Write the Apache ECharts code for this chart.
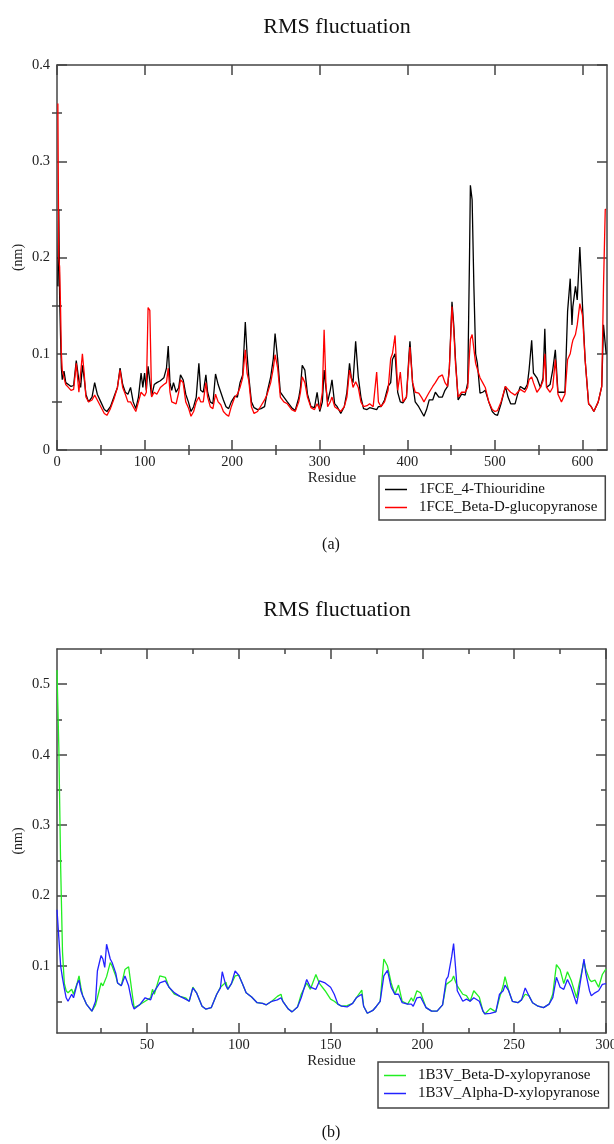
<!DOCTYPE html>
<html>
<head>
<meta charset="utf-8">
<script src="https://cdn.jsdelivr.net/npm/echarts@6/dist/echarts.min.js"></script>
<style>
html, body { margin: 0; padding: 0; background: #fff; }
#main { width: 614px; height: 1144px; }
</style>
</head>
<body>
<div id="main"></div>
<script>
// (a) 1FCE, RMSF per residue (nm)
var resA = [
    1, 2, 3, 4, 5, 6, 8, 10, 13, 16,
    19, 22, 25, 27, 29, 31, 33, 36, 40, 43,
    46, 50, 54, 57, 61, 65, 69, 72, 75, 78,
    81, 84, 87, 90, 93, 96, 98, 100, 102, 104,
    106, 108, 111, 114, 118, 122, 125, 127, 129, 131,
    133, 136, 139, 141, 144, 147, 150, 153, 156, 159,
    162, 164, 167, 170, 172, 175, 178, 181, 184, 187,
    190, 193, 196, 199, 203, 206, 209, 212, 215, 217,
    219, 222, 225, 229, 233, 237, 240, 244, 247, 249,
    252, 255, 259, 263, 268, 272, 276, 278, 280, 283,
    286, 290, 294, 297, 300, 303, 305, 307, 309, 312,
    314, 317, 320, 324, 328, 331, 334, 336, 338, 341,
    344, 347, 350, 354, 357, 361, 365, 367, 370, 374,
    378, 381, 383, 386, 389, 392, 395, 399, 402, 403,
    406, 409, 413, 416, 419, 422, 425, 429, 432, 436,
    440, 443, 446, 448, 451, 453, 455, 458, 462, 466,
    469, 471, 472, 474, 476, 478, 480, 483, 486, 489,
    493, 497, 500, 503, 507, 512, 515, 518, 523, 526,
    529, 534, 537, 539, 542, 544, 548, 552, 555, 557,
    559, 563, 566, 569, 572, 576, 580, 583, 586, 588,
    589, 592, 594, 597, 600, 603, 607, 610, 613, 618,
    622, 624, 626, 627
];
var thiouridine = [
    0.17, 0.25, 0.16, 0.12, 0.085, 0.073, 0.082, 0.07, 0.068, 0.066,
    0.067, 0.093, 0.072, 0.065, 0.088, 0.075, 0.058, 0.05, 0.055, 0.07,
    0.058, 0.05, 0.042, 0.04, 0.045, 0.055, 0.065, 0.085, 0.068, 0.06,
    0.058, 0.065, 0.05, 0.043, 0.055, 0.08, 0.065, 0.08, 0.062, 0.087,
    0.085, 0.056, 0.068, 0.07, 0.072, 0.075, 0.085, 0.108, 0.07, 0.062,
    0.07, 0.06, 0.065, 0.078, 0.073, 0.058, 0.05, 0.04, 0.045, 0.055,
    0.09, 0.062, 0.06, 0.078, 0.06, 0.05, 0.048, 0.079, 0.068, 0.06,
    0.052, 0.045, 0.043, 0.05, 0.056, 0.055, 0.07, 0.078, 0.133, 0.1,
    0.076, 0.05, 0.044, 0.042, 0.043, 0.045, 0.06, 0.076, 0.095, 0.121,
    0.094, 0.06, 0.055, 0.05, 0.044, 0.041, 0.054, 0.065, 0.088, 0.083,
    0.058, 0.045, 0.044, 0.06, 0.04, 0.05, 0.083, 0.065, 0.05, 0.062,
    0.073, 0.048, 0.045, 0.038, 0.045, 0.06, 0.09, 0.075, 0.07, 0.113,
    0.076, 0.055, 0.043, 0.042, 0.044, 0.043, 0.042, 0.045, 0.045, 0.052,
    0.066, 0.07, 0.094, 0.1, 0.06, 0.05, 0.049, 0.055, 0.1, 0.113,
    0.07, 0.05, 0.045, 0.04, 0.035, 0.042, 0.052, 0.052, 0.06, 0.055,
    0.055, 0.062, 0.066, 0.085, 0.154, 0.13, 0.094, 0.052, 0.058, 0.057,
    0.07, 0.2, 0.275, 0.26, 0.17, 0.1, 0.09, 0.059, 0.06, 0.062,
    0.05, 0.04, 0.037, 0.036, 0.048, 0.066, 0.055, 0.048, 0.048, 0.058,
    0.066, 0.063, 0.068, 0.083, 0.114, 0.08, 0.075, 0.065, 0.075, 0.126,
    0.065, 0.068, 0.083, 0.104, 0.06, 0.06, 0.06, 0.144, 0.178, 0.13,
    0.149, 0.17, 0.156, 0.211, 0.15, 0.094, 0.048, 0.045, 0.04, 0.05,
    0.066, 0.13, 0.13, 0.1
];
var glucopyranose = [
    0.36, 0.2, 0.19, 0.15, 0.1, 0.083, 0.075, 0.068, 0.065, 0.062,
    0.063, 0.09, 0.06, 0.062, 0.1, 0.08, 0.055, 0.05, 0.052, 0.057,
    0.052, 0.045, 0.038, 0.036, 0.043, 0.053, 0.065, 0.083, 0.065, 0.058,
    0.05, 0.05, 0.045, 0.04, 0.05, 0.06, 0.058, 0.056, 0.06, 0.148,
    0.145, 0.055, 0.06, 0.058, 0.065, 0.068, 0.07, 0.085, 0.06, 0.05,
    0.052, 0.048, 0.06, 0.073, 0.07, 0.05, 0.044, 0.035, 0.04, 0.05,
    0.055, 0.05, 0.05, 0.07, 0.055, 0.045, 0.043, 0.058, 0.05, 0.047,
    0.04, 0.037, 0.035, 0.045, 0.055, 0.058, 0.065, 0.075, 0.104, 0.08,
    0.072, 0.045, 0.038, 0.04, 0.046, 0.052, 0.058, 0.07, 0.085, 0.099,
    0.085, 0.055, 0.05, 0.048, 0.042, 0.04, 0.05, 0.06, 0.076, 0.07,
    0.055, 0.044, 0.042, 0.048, 0.042, 0.06, 0.125, 0.07, 0.045, 0.05,
    0.055, 0.045, 0.043, 0.04, 0.045, 0.055, 0.083, 0.075, 0.065, 0.071,
    0.065, 0.05, 0.045, 0.046, 0.048, 0.045, 0.081, 0.05, 0.045, 0.05,
    0.062, 0.095, 0.1, 0.119, 0.062, 0.081, 0.05, 0.055, 0.095, 0.107,
    0.07, 0.06, 0.059, 0.055, 0.05, 0.055, 0.06, 0.066, 0.07, 0.076,
    0.078, 0.07, 0.066, 0.085, 0.149, 0.125, 0.09, 0.055, 0.06, 0.06,
    0.065, 0.1, 0.115, 0.12, 0.105, 0.09, 0.088, 0.075, 0.07, 0.065,
    0.05, 0.042, 0.04, 0.041, 0.05, 0.066, 0.063, 0.06, 0.057, 0.06,
    0.063, 0.06, 0.065, 0.073, 0.076, 0.07, 0.06, 0.065, 0.072, 0.1,
    0.065, 0.06, 0.065, 0.094, 0.058, 0.05, 0.058, 0.094, 0.1, 0.11,
    0.114, 0.12, 0.13, 0.152, 0.14, 0.094, 0.048, 0.045, 0.04, 0.05,
    0.066, 0.17, 0.25, 0.25
];

// (b) 1B3V, RMSF per residue (nm)
var resB = [
    1, 2, 3, 4, 5, 6, 7, 9, 10, 12,
    13, 14, 15, 17, 20, 22, 23, 25, 26, 27,
    28, 30, 31, 33, 34, 36, 38, 40, 42, 43,
    46, 49, 52, 53, 54, 57, 60, 62, 65, 68,
    71, 73, 75, 77, 80, 82, 85, 88, 90, 91,
    93, 94, 96, 98, 100, 102, 104, 107, 110, 113,
    115, 118, 121, 123, 124, 127, 129, 132, 134, 137,
    139, 142, 144, 147, 150, 152, 154, 156, 159, 162,
    164, 167, 168, 170, 173, 175, 177, 179, 181, 183,
    185, 187, 189, 192, 194, 195, 197, 199, 202, 205,
    208, 211, 213, 214, 216, 217, 218, 219, 222, 224,
    226, 228, 231, 233, 234, 237, 240, 242, 244, 245,
    247, 249, 252, 254, 256, 258, 260, 263, 266, 269,
    271, 273, 275, 277, 279, 281, 284, 285, 288, 289,
    291, 292, 294, 296, 298, 300
];
var betaXylo = [
    0.52, 0.41, 0.24, 0.12, 0.075, 0.065, 0.062, 0.067, 0.06, 0.076,
    0.086, 0.07, 0.058, 0.046, 0.036, 0.045, 0.055, 0.076, 0.072, 0.07,
    0.085, 0.105, 0.1, 0.086, 0.076, 0.072, 0.095, 0.099, 0.06, 0.041,
    0.045, 0.05, 0.055, 0.067, 0.06, 0.086, 0.084, 0.07, 0.06, 0.057,
    0.055, 0.05, 0.07, 0.062, 0.043, 0.039, 0.041, 0.06, 0.07, 0.07,
    0.077, 0.067, 0.075, 0.086, 0.087, 0.075, 0.062, 0.056, 0.048, 0.047,
    0.045, 0.05, 0.057, 0.06, 0.05, 0.039, 0.035, 0.042, 0.06, 0.076,
    0.067, 0.088, 0.075, 0.065, 0.053, 0.05, 0.046, 0.043, 0.044, 0.047,
    0.055, 0.066, 0.043, 0.033, 0.037, 0.043, 0.05, 0.11, 0.1, 0.076,
    0.06, 0.073, 0.05, 0.046, 0.055, 0.05, 0.065, 0.062, 0.041, 0.036,
    0.036, 0.045, 0.074, 0.075, 0.08, 0.086, 0.078, 0.072, 0.06, 0.058,
    0.05, 0.065, 0.056, 0.036, 0.032, 0.04, 0.035, 0.055, 0.072, 0.085,
    0.065, 0.05, 0.048, 0.052, 0.06, 0.058, 0.048, 0.043, 0.041, 0.046,
    0.06, 0.102, 0.095, 0.075, 0.092, 0.08, 0.055, 0.07, 0.107, 0.095,
    0.081, 0.078, 0.08, 0.07, 0.088, 0.096
];
var alphaXylo = [
    0.18, 0.14, 0.1, 0.083, 0.068, 0.055, 0.05, 0.06, 0.055, 0.075,
    0.08, 0.065, 0.058, 0.046, 0.036, 0.05, 0.093, 0.115, 0.11, 0.098,
    0.131, 0.11, 0.105, 0.09, 0.076, 0.072, 0.086, 0.072, 0.046, 0.039,
    0.045, 0.055, 0.052, 0.06, 0.06, 0.076, 0.079, 0.07, 0.062, 0.057,
    0.053, 0.05, 0.069, 0.062, 0.043, 0.039, 0.041, 0.06, 0.069, 0.092,
    0.072, 0.067, 0.075, 0.093, 0.087, 0.075, 0.062, 0.056, 0.048, 0.047,
    0.045, 0.05, 0.052, 0.055, 0.05, 0.039, 0.035, 0.042, 0.055, 0.081,
    0.07, 0.067, 0.079, 0.076, 0.07, 0.06, 0.046, 0.043, 0.042, 0.047,
    0.055, 0.06, 0.043, 0.033, 0.037, 0.043, 0.05, 0.086, 0.094, 0.07,
    0.06, 0.06, 0.048, 0.046, 0.046, 0.043, 0.055, 0.056, 0.041, 0.036,
    0.036, 0.045, 0.081, 0.085, 0.114, 0.132, 0.1, 0.065, 0.05, 0.053,
    0.05, 0.055, 0.05, 0.036, 0.032, 0.033, 0.035, 0.06, 0.065, 0.073,
    0.065, 0.05, 0.048, 0.052, 0.069, 0.058, 0.048, 0.043, 0.041, 0.046,
    0.055, 0.084, 0.07, 0.067, 0.081, 0.07, 0.046, 0.06, 0.11, 0.09,
    0.065, 0.058, 0.062, 0.065, 0.074, 0.075
];

// tick positions
var xMajorA = [0, 100, 200, 300, 400, 500, 600];
var xMinorA = [50, 150, 250, 350, 450, 550];
var yMajorA = [0, 0.1, 0.2, 0.3, 0.4];
var yMinorA = [0.05, 0.15, 0.25, 0.35];
var xMajorB = [50, 100, 150, 200, 250, 300];
var xMinorB = [25, 75, 125, 175, 225, 275];
var yMajorB = [0.1, 0.2, 0.3, 0.4, 0.5];
var yMinorB = [0.05, 0.15, 0.25, 0.35, 0.45];

var FONT = 'Liberation Serif';
var FRAME = '#444';

function zip(xs, ys) {
    return xs.map(function (x, i) { return [x, ys[i]]; });
}

// one side of the frame: a major axis (line + long ticks) and a minor one (short ticks only)
function sideAxes(gridIndex, position, min, max, major, minor, withLabels, name) {
    var isY = position === 'left' || position === 'right';
    var tickStyle = { color: FRAME, width: 1.5 };
    var majorAxis = {
        type: 'value',
        gridIndex: gridIndex,
        position: position,
        min: min,
        max: max,
        splitLine: { show: false },
        axisLine: { show: true, onZero: false, lineStyle: { color: FRAME, width: 1.5 } },
        axisTick: { show: true, inside: true, length: 10, customValues: major, lineStyle: tickStyle },
        axisLabel: {
            show: withLabels,
            customValues: major,
            margin: isY ? 7 : 5,
            color: '#222',
            fontFamily: FONT,
            fontSize: 14.5
        }
    };
    if (name) {
        majorAxis.name = name;
        majorAxis.nameLocation = 'middle';
        majorAxis.nameMoveOverlap = false;
        majorAxis.nameGap = isY ? 32 : 21;
        majorAxis.nameRotate = isY ? 90 : 0;
        majorAxis.nameTextStyle = { fontFamily: FONT, fontSize: isY ? 14 : 15, color: '#222' };
    }
    var minorAxis = {
        type: 'value',
        gridIndex: gridIndex,
        position: position,
        min: min,
        max: max,
        splitLine: { show: false },
        axisLine: { show: false },
        axisTick: { show: true, inside: true, length: 5, customValues: minor, lineStyle: tickStyle },
        axisLabel: { show: false }
    };
    return [majorAxis, minorAxis];
}

var xAxes = [].concat(
    sideAxes(0, 'bottom', 0, 628, xMajorA, xMinorA, true, 'Residue'),
    sideAxes(0, 'top', 0, 628, xMajorA, xMinorA, false),
    sideAxes(1, 'bottom', 1, 300, xMajorB, xMinorB, true, 'Residue'),
    sideAxes(1, 'top', 1, 300, xMajorB, xMinorB, false)
);
var yAxes = [].concat(
    sideAxes(0, 'left', 0, 0.4, yMajorA, yMinorA, true, '(nm)'),
    sideAxes(0, 'right', 0, 0.4, yMajorA, yMinorA, false),
    sideAxes(1, 'left', 0.005, 0.55, yMajorB, yMinorB, true, '(nm)'),
    sideAxes(1, 'right', 0.005, 0.55, yMajorB, yMinorB, false)
);

function rmsfLine(name, color, gridIdx, data) {
    return {
        name: name,
        type: 'line',
        xAxisIndex: gridIdx * 4,
        yAxisIndex: gridIdx * 4,
        data: data,
        symbol: 'none',
        color: color,
        lineStyle: { color: color, width: 1.3 }
    };
}

function legendBox(names, left, top, padding) {
    return {
        data: names,
        orient: 'vertical',
        left: left,
        top: top,
        padding: padding,
        itemGap: 3,
        icon: 'rect',
        itemWidth: 22,
        itemHeight: 1.5,
        borderColor: FRAME,
        borderWidth: 1.5,
        borderRadius: 0,
        backgroundColor: '#fff',
        selectedMode: false,
        textStyle: { fontFamily: FONT, fontSize: 15, color: '#111', padding: [0, 0, 0, 7] }
    };
}

var chart = echarts.init(document.getElementById('main'));
chart.setOption({
    backgroundColor: '#fff',
    animation: false,
    title: [
        {
            text: 'RMS fluctuation', left: 332, top: 11, textAlign: 'center',
            textStyle: { fontFamily: FONT, fontSize: 22, fontWeight: 'normal', color: '#111' }
        },
        {
            text: 'RMS fluctuation', left: 332, top: 594, textAlign: 'center',
            textStyle: { fontFamily: FONT, fontSize: 22, fontWeight: 'normal', color: '#111' }
        }
    ],
    grid: [
        { left: 57, top: 65, width: 550, height: 385, outerBoundsMode: 'none' },
        { left: 57, top: 649, width: 549, height: 384, outerBoundsMode: 'none' }
    ],
    xAxis: xAxes,
    yAxis: yAxes,
    legend: [
        legendBox(['1FCE_4-Thiouridine', '1FCE_Beta-D-glucopyranose'], 379, 476, [6, 8, 5, 6]),
        legendBox(['1B3V_Beta-D-xylopyranose', '1B3V_Alpha-D-xylopyranose'], 378, 1062, [6, 9, 7, 6])
    ],
    series: [
        rmsfLine('1FCE_4-Thiouridine', '#000000', 0, zip(resA, thiouridine)),
        rmsfLine('1FCE_Beta-D-glucopyranose', '#ff0000', 0, zip(resA, glucopyranose)),
        rmsfLine('1B3V_Beta-D-xylopyranose', '#22ee22', 1, zip(resB, betaXylo)),
        rmsfLine('1B3V_Alpha-D-xylopyranose', '#2222ff', 1, zip(resB, alphaXylo))
    ],
    graphic: [
        {
            type: 'text', x: 331, y: 545,
            style: { text: '(a)', font: '16px "Liberation Serif"', fill: '#111', align: 'center', verticalAlign: 'middle' }
        },
        {
            type: 'text', x: 331, y: 1133,
            style: { text: '(b)', font: '16px "Liberation Serif"', fill: '#111', align: 'center', verticalAlign: 'middle' }
        }
    ]
});
</script>
</body>
</html>
